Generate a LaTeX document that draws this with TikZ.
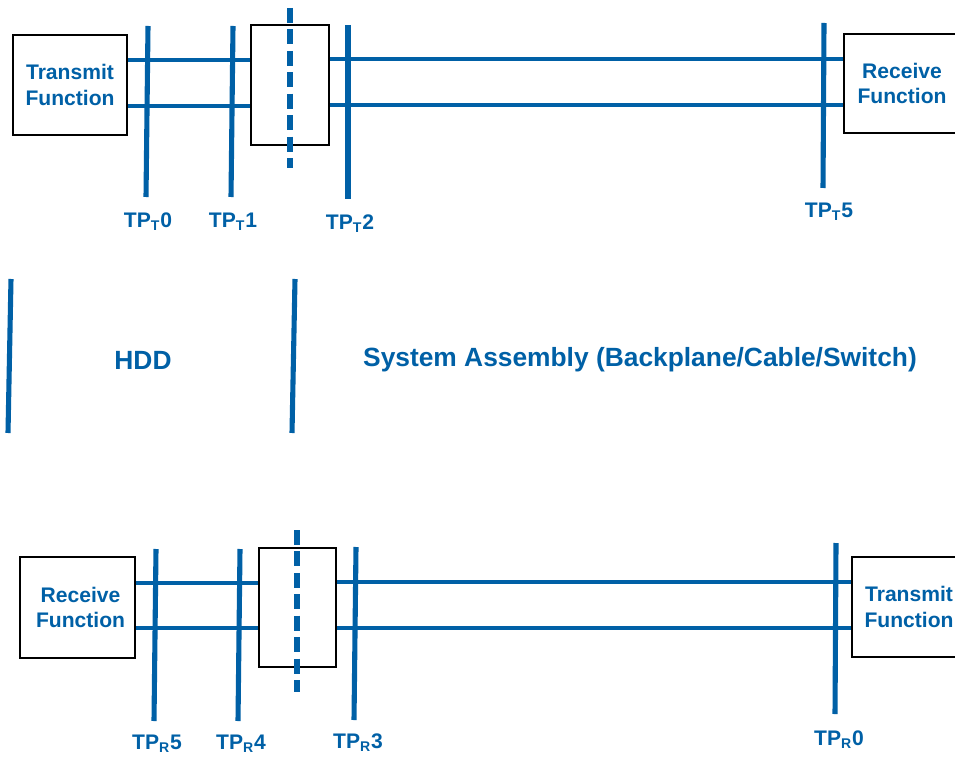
\documentclass[tikz,border=0pt]{standalone}
\usepackage{fontspec}
\setmainfont{Liberation Sans}
\definecolor{tpblue}{RGB}{0,96,166}

\begin{document}
\begin{tikzpicture}
[
	x=0.02cm,y=-0.02cm,
	funcbox/.style={draw,line width=1.2pt,inner sep=0pt,minimum width=2.28cm,minimum height=2cm,
		text=tpblue,font=\fontsize{12}{14.4}\selectfont\bfseries,align=center},
	conbox/.style={draw,line width=1.2pt,inner sep=0pt,minimum width=1.56cm,minimum height=2.4cm},
	wire/.style={tpblue,line width=2.8pt},
	tpline/.style={tpblue,line width=2.9pt},
	cut/.style={tpblue,line width=3.2pt,dash pattern=on 8.5pt off 3.7pt},
	tplabel/.style={text=tpblue,font=\fontsize{12}{14.4}\selectfont\bfseries,inner sep=0pt},
	zonetext/.style={text=tpblue,font=\fontsize{15}{18}\selectfont\bfseries,inner sep=0pt}
]

	\useasboundingbox (0,0) rectangle (955,756);

	% transmit path
	\node[funcbox] (txT) at (70,85) {Transmit\\Function};
	\node[conbox] (conT) at (290,85) {};
	\node[funcbox,minimum width=2.32cm,minimum height=1.98cm] (rxT) at (902,83.5) {Receive\\Function};

	\draw[wire] (txT.east |- 0,60) -- (conT.west |- 0,60);
	\draw[wire] (txT.east |- 0,106) -- (conT.west |- 0,106);
	\draw[wire] (conT.east |- 0,59) -- (rxT.west |- 0,59);
	\draw[wire] (conT.east |- 0,105) -- (rxT.west |- 0,105);

	\coordinate (cutTa) at (290,8);
	\coordinate (cutTb) at (290,168);
	\draw[cut] (cutTa) -- (cutTb);

	\coordinate (tpT0a) at (148,26);  \coordinate (tpT0b) at (146,197);
	\coordinate (tpT1a) at (233,26);  \coordinate (tpT1b) at (231,197);
	\coordinate (tpT2a) at (348,25);  \coordinate (tpT2b) at (348,199);
	\coordinate (tpT5a) at (824,23);  \coordinate (tpT5b) at (823,188);
	\draw[tpline] (tpT0a) -- (tpT0b);
	\draw[tpline] (tpT1a) -- (tpT1b);
	\draw[tpline] (tpT2a) -- (tpT2b);
	\draw[tpline] (tpT5a) -- (tpT5b);

	\node[tplabel] (lbT0) at (148,222) {TP\textsubscript{T}0};
	\node[tplabel] (lbT1) at (233,222) {TP\textsubscript{T}1};
	\node[tplabel] (lbT2) at (350,224) {TP\textsubscript{T}2};
	\node[tplabel] (lbT5) at (829,212) {TP\textsubscript{T}5};

	% zones
	\coordinate (hddLa) at (11,279);  \coordinate (hddLb) at (8,433);
	\coordinate (hddRa) at (295,279); \coordinate (hddRb) at (292,433);
	\draw[tpline] (hddLa) -- (hddLb);
	\draw[tpline] (hddRa) -- (hddRb);
	\node[zonetext] (hdd) at (143,360) {HDD};
	\node[zonetext] (sys) at (640,360) {System Assembly (Backplane/Cable/Switch)};

	% receive path
	\node[funcbox,minimum width=2.3cm,minimum height=2.02cm] (rxR) at (77.5,607.5) {\hspace{3.5pt}Receive\\\hspace{3.5pt}Function};
	\node[conbox,minimum width=1.54cm,minimum height=2.38cm] (conR) at (297.5,607.5) {};
	\node[funcbox] (txR) at (909,607) {Transmit\\Function};

	\draw[wire] (rxR.east |- 0,583) -- (conR.west |- 0,583);
	\draw[wire] (rxR.east |- 0,628) -- (conR.west |- 0,628);
	\draw[wire] (conR.east |- 0,582) -- (txR.west |- 0,582);
	\draw[wire] (conR.east |- 0,628) -- (txR.west |- 0,628);

	\coordinate (cutRa) at (297,530);
	\coordinate (cutRb) at (297,692);
	\draw[cut] (cutRa) -- (cutRb);

	\coordinate (tpR5a) at (156,549);  \coordinate (tpR5b) at (154,721);
	\coordinate (tpR4a) at (240,549);  \coordinate (tpR4b) at (238,721);
	\coordinate (tpR3a) at (356,547);  \coordinate (tpR3b) at (354,720);
	\coordinate (tpR0a) at (836,543);  \coordinate (tpR0b) at (835,714);
	\draw[tpline] (tpR5a) -- (tpR5b);
	\draw[tpline] (tpR4a) -- (tpR4b);
	\draw[tpline] (tpR3a) -- (tpR3b);
	\draw[tpline] (tpR0a) -- (tpR0b);

	\node[tplabel] (lbR5) at (157,744) {TP\textsubscript{R}5};
	\node[tplabel] (lbR4) at (241,744) {TP\textsubscript{R}4};
	\node[tplabel] (lbR3) at (358,743) {TP\textsubscript{R}3};
	\node[tplabel] (lbR0) at (839,740) {TP\textsubscript{R}0};

\end{tikzpicture}
\end{document}
